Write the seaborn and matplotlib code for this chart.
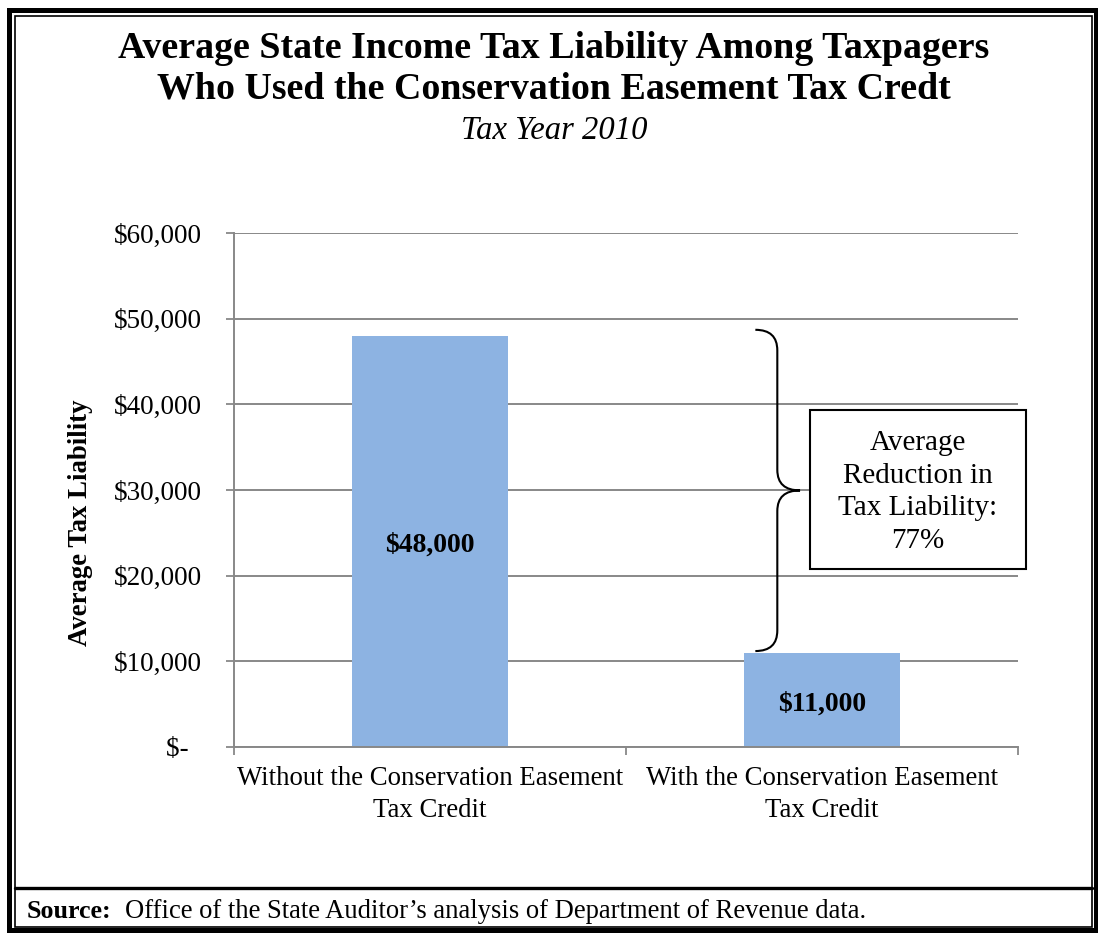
import matplotlib
matplotlib.use("Agg")
import matplotlib.pyplot as plt
import matplotlib.transforms as mtransforms
import seaborn as sns
import pandas as pd
from matplotlib.patches import Rectangle, PathPatch
from matplotlib.path import Path
from matplotlib.lines import Line2D
from matplotlib.ticker import FuncFormatter

# ---- data ----
categories = ["Without the Conservation Easement\nTax Credit",
              "With the Conservation Easement\nTax Credit"]
values = [48000, 11000]
bar_labels = ["$48,000", "$11,000"]
y_ticks = [0, 10000, 20000, 30000, 40000, 50000, 60000]
title_lines = ["Average State Income Tax Liability Among Taxpagers",
               "Who Used the Conservation Easement Tax Credt"]
subtitle = "Tax Year 2010"
y_label = "Average Tax Liability"
box_text = "Average\nReduction in\nTax Liability:\n77%"
source_bold = "Source:"
source_text = "Office of the State Auditor\u2019s analysis of Department of Revenue data."

sns.set_theme(style="white")
plt.rcParams['font.family'] = ['Liberation Serif', 'DejaVu Serif']
plt.rcParams['text.color'] = 'black'
plt.rcParams['axes.labelcolor'] = 'black'

W, H = 1098, 936
fig = plt.figure(figsize=(W / 100, H / 100), dpi=100)


def fx(px):
    return px / W


def fy(py):
    return 1 - py / H


ax = fig.add_axes([fx(234), fy(747), fx(1018) - fx(234), fy(233) - fy(747)])

df = pd.DataFrame({"cat": categories, "val": values})
sns.barplot(data=df, x="cat", y="val", color="#8DB3E2", saturation=1,
            width=0.4, edgecolor="none", ax=ax, zorder=2)

ax.set_xlim(-0.5, 1.5)
ax.set_ylim(0, 60000)
ax.set_yticks(y_ticks)
ax.yaxis.set_major_formatter(FuncFormatter(lambda v, p: "$-  " if v == 0 else "${:,.0f}".format(v)))
ax.yaxis.grid(True, color="#888888", lw=1.4, zorder=0)
ax.set_axisbelow(True)

ax.set_xticks([-0.5, 0.5, 1.5])
ax.set_xticklabels(["", "", ""])
ax.set_xticks([0, 1], minor=True)
ax.set_xticklabels(categories, minor=True, fontsize=19.3, linespacing=1.36)
ax.tick_params(axis="x", which="major", length=6, width=1.3, color="#888888", direction="out", bottom=True)
ax.tick_params(axis="x", which="minor", length=0, pad=14, labelcolor="black")
ax.tick_params(axis="y", length=6, width=1.3, color="#888888", direction="out", left=True,
               labelsize=19.5, pad=17, labelcolor="black")

for s in ["top", "right"]:
    ax.spines[s].set_visible(False)
for s in ["left", "bottom"]:
    ax.spines[s].set_color("#888888")
    ax.spines[s].set_linewidth(1.4)

ax.set_xlabel("")
ax.set_ylabel(y_label, fontsize=19.3, fontweight="bold")
ax.yaxis.set_label_coords((93 - 234) / 784, (747 - 523) / 514)

# bar value labels
lab_trans = mtransforms.offset_copy(ax.transData, fig=fig, x=0, y=-4, units="dots")
for i, (v, t) in enumerate(zip(values, bar_labels)):
    ax.text(i, v / 2, t, ha="center", va="center", transform=lab_trans,
            fontsize=20, fontweight="bold", zorder=3)

# brace between the two bar tops
trans = ax.get_yaxis_transform()
x0, x1, x2 = 0.665, 0.693, 0.722
top = values[0] + 700
bot = values[1] + 200
mid = (top + bot) / 2
c = 2400
verts = [(x0, top), (x1, top), (x1, top - c), (x1, top - c),
         (x1, mid + c), (x1, mid + c), (x1, mid), (x2, mid),
         (x1, mid), (x1, mid - c), (x1, mid - c),
         (x1, bot + c), (x1, bot + c), (x1, bot), (x0, bot)]
codes = [Path.MOVETO, Path.CURVE3, Path.CURVE3, Path.LINETO,
         Path.LINETO, Path.LINETO, Path.CURVE3, Path.CURVE3,
         Path.CURVE3, Path.CURVE3, Path.LINETO,
         Path.LINETO, Path.LINETO, Path.CURVE3, Path.CURVE3]
ax.add_patch(PathPatch(Path(verts, codes), transform=trans, fill=False,
                       lw=1.5, color="black", clip_on=False, zorder=4))

# annotation box
bx0, bx1 = (810 - 234) / 784, (1026 - 234) / 784
by0, by1 = (747 - 569) / 514, (747 - 410) / 514
ax.add_patch(Rectangle((bx0, by0), bx1 - bx0, by1 - by0, transform=ax.transAxes,
                       facecolor="white", edgecolor="black", lw=1.5, clip_on=False, zorder=5))
ax.text((bx0 + bx1) / 2, (747 - 492) / 514, box_text, transform=ax.transAxes,
        ha="center", va="center", fontsize=21, linespacing=1.32, zorder=6)

# titles
fig.text(fx(554), fy(49), title_lines[0], ha="center", va="center", fontsize=27.3, fontweight="bold")
fig.text(fx(554), fy(89), title_lines[1], ha="center", va="center", fontsize=27.3, fontweight="bold")
fig.text(fx(554), fy(131), subtitle, ha="center", va="center", fontsize=23.5, style="italic")

# source
fig.text(fx(27), fy(911), source_bold, ha="left", va="center", fontsize=18.7, fontweight="bold")
fig.text(fx(125), fy(911), source_text, ha="left", va="center", fontsize=19.2)

# borders
fig.add_artist(Rectangle((fx(8.5), fy(930)), fx(1095.5) - fx(8.5), fy(9.5) - fy(930),
                         transform=fig.transFigure, fill=False, edgecolor="black", lw=3.6))
inner = Rectangle((fx(14.5), fy(927)), fx(1092) - fx(14.5), fy(15.5) - fy(927),
                  transform=fig.transFigure, fill=False, edgecolor="black", lw=1.2)
fig.add_artist(inner)
fig.add_artist(Line2D([fx(14.5), fx(1092)], [fy(887.5), fy(887.5)], transform=fig.transFigure,
                      color="black", lw=2.4))

fig.savefig("out.png", dpi=100)
